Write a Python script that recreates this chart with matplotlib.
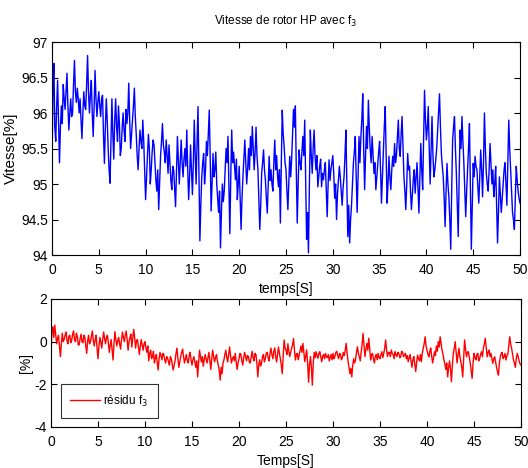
import numpy as np
import matplotlib
matplotlib.use("Agg")
import matplotlib.pyplot as plt

plt.rcParams['font.family'] = ['Liberation Sans Narrow', 'Liberation Sans', 'DejaVu Sans']

# HP rotor speed [%], sampled every 0.1 s from 0 to 50 s (one row per second)
speed = [
    95.25, 96.30, 96.70, 95.80, 95.60, 96.10, 96.46, 95.90, 95.30, 95.80,
    96.10, 95.85, 96.40, 96.20, 96.05, 96.30, 96.56, 96.10, 95.76, 96.00,
    96.20, 95.95, 96.00, 96.40, 96.74, 96.30, 96.15, 96.35, 96.20, 96.00,
    96.20, 95.90, 95.64, 96.00, 96.30, 96.10, 96.05, 96.40, 96.81, 96.30,
    96.00, 96.25, 96.46, 96.00, 95.67, 96.10, 96.60, 96.20, 95.95, 96.15,
    96.30, 96.10, 95.95, 96.20, 96.25, 95.70, 95.29, 95.80, 96.20, 95.90,
    95.50, 95.20, 95.01, 95.60, 96.20, 95.70, 95.35, 95.90, 96.20, 95.80,
    95.60, 96.10, 95.85, 95.40, 95.50, 95.80, 96.00, 95.75, 95.60, 96.05,
    95.85, 96.00, 96.42, 95.90, 95.50, 95.70, 95.90, 96.10, 96.35, 95.95,
    95.70, 95.40, 95.20, 95.50, 95.76, 95.60, 95.50, 95.90, 95.60, 95.20,
    94.78, 95.10, 95.40, 95.70, 95.50, 95.00, 95.20, 95.45, 95.62, 95.55,
    95.30, 95.05, 94.90, 95.20, 94.64, 95.00, 95.40, 95.60, 95.85, 95.55,
    95.45, 95.30, 95.62, 95.40, 95.15, 95.55, 95.30, 95.05, 94.92, 95.25,
    95.20, 94.95, 94.68, 95.20, 95.67, 95.35, 95.00, 95.30, 95.62, 95.30,
    95.10, 95.35, 95.50, 95.25, 95.76, 95.20, 94.78, 95.10, 95.55, 95.20,
    94.85, 95.30, 95.90, 95.40, 95.00, 95.60, 96.09, 95.10, 94.20, 94.70,
    95.10, 95.30, 95.43, 95.00, 95.20, 95.60, 95.40, 95.70, 96.04, 95.40,
    94.62, 95.00, 95.43, 95.10, 95.20, 95.45, 95.00, 94.80, 94.60, 94.90,
    94.10, 94.60, 95.00, 94.75, 94.90, 95.20, 95.50, 95.30, 95.67, 95.00,
    94.30, 95.10, 95.76, 95.30, 95.45, 95.25, 95.06, 95.35, 94.78, 95.00,
    95.25, 94.80, 94.36, 94.80, 95.10, 95.35, 95.62, 95.30, 95.00, 95.20,
    95.50, 95.20, 95.67, 95.40, 95.81, 95.50, 95.20, 95.45, 95.80, 95.40,
    95.20, 94.80, 94.36, 94.70, 95.15, 95.30, 95.48, 95.20, 95.06, 94.80,
    94.59, 95.00, 95.39, 95.05, 95.20, 95.00, 94.90, 95.30, 95.62, 95.20,
    95.40, 95.10, 94.96, 95.20, 94.45, 95.30, 96.04, 95.70, 95.53, 95.30,
    95.20, 94.90, 94.64, 95.00, 95.39, 95.10, 95.34, 95.70, 96.05, 95.80,
    96.10, 95.20, 94.45, 95.00, 95.48, 95.30, 95.20, 95.45, 95.67, 95.40,
    95.90, 95.10, 94.22, 94.60, 94.03, 95.00, 95.76, 95.40, 95.15, 95.50,
    95.76, 95.40, 95.20, 95.40, 94.96, 95.10, 95.25, 95.35, 94.96, 95.15,
    95.06, 95.20, 95.30, 94.90, 94.54, 95.00, 95.34, 95.05, 95.20, 95.30,
    95.40, 95.15, 94.80, 95.00, 94.50, 94.85, 95.06, 95.25, 95.10, 94.90,
    94.70, 94.95, 95.10, 95.40, 95.76, 95.00, 94.26, 94.70, 94.17, 94.50,
    94.70, 95.00, 95.29, 95.45, 95.67, 95.10, 94.60, 95.10, 95.67, 95.30,
    95.67, 95.90, 96.27, 95.50, 94.92, 95.40, 95.81, 95.50, 96.18, 95.80,
    95.48, 95.30, 95.67, 95.40, 95.15, 95.30, 94.92, 95.10, 95.29, 95.45,
    95.60, 95.20, 94.73, 95.10, 95.50, 95.80, 96.09, 95.40, 94.73, 95.00,
    95.39, 95.10, 94.92, 95.20, 95.39, 95.25, 95.57, 95.30, 95.40, 95.65,
    95.90, 95.50, 95.39, 95.70, 95.95, 95.50, 95.10, 94.90, 94.64, 95.00,
    95.43, 95.20, 95.25, 94.90, 94.64, 94.85, 95.06, 95.20, 94.87, 95.10,
    95.30, 94.95, 94.59, 95.10, 95.57, 95.20, 94.92, 95.60, 96.32, 95.90,
    95.62, 95.80, 96.09, 95.50, 95.00, 95.50, 95.95, 95.40, 95.10, 95.20,
    95.34, 95.50, 95.76, 96.00, 96.27, 95.80, 95.43, 95.25, 95.10, 94.80,
    94.40, 94.90, 95.29, 95.00, 94.82, 94.50, 94.08, 94.90, 95.62, 95.80,
    95.95, 95.50, 95.15, 94.70, 94.26, 95.10, 95.76, 95.50, 95.95, 95.60,
    95.30, 94.90, 94.54, 94.90, 95.20, 95.50, 95.85, 95.00, 94.08, 94.70,
    95.29, 95.10, 95.39, 95.25, 95.20, 94.95, 94.73, 95.10, 95.48, 95.20,
    94.82, 95.30, 96.00, 95.50, 95.15, 95.00, 94.90, 95.20, 95.57, 95.30,
    95.00, 95.20, 94.82, 95.00, 95.25, 94.70, 94.17, 94.60, 95.10, 94.85,
    94.60, 94.80, 95.00, 95.20, 95.30, 95.00, 94.70, 95.30, 95.90, 95.50,
    95.20, 94.90, 94.60, 94.50, 94.36, 94.80, 95.25, 95.05, 94.90, 94.80,
    94.73,
]

# fault-f3 residual [%], same time base
residual = [
    -0.55, 0.45, 0.70, 0.20, 0.78, 0.35, -0.10, 0.15, 0.30, -0.20,
    -0.70, -0.10, 0.40, 0.00, 0.10, 0.30, 0.45, 0.05, -0.10, 0.25,
    0.30, -0.05, 0.05, 0.35, 0.50, 0.10, 0.00, 0.40, 0.25, -0.15,
    -0.15, 0.15, 0.35, 0.00, -0.05, 0.30, 0.20, -0.20, -0.55, 0.05,
    0.30, -0.10, 0.00, 0.25, 0.50, 0.05, -0.20, 0.10, 0.30, -0.30,
    -0.80, -0.20, 0.20, 0.00, -0.30, 0.10, 0.45, 0.15, -0.10, 0.20,
    0.30, -0.05, -0.50, -0.15, 0.10, -0.40, -0.86, -0.10, 0.47, 0.10,
    -0.20, 0.05, 0.20, -0.10, -0.35, 0.10, 0.45, 0.20, 0.00, 0.30,
    0.50, 0.10, -0.40, 0.00, 0.20, 0.35, -0.25, 0.15, 0.58, 0.20,
    -0.30, 0.05, 0.10, -0.25, -0.60, -0.20, 0.10, -0.15, -0.40, -0.10,
    0.00, -0.30, -0.50, -0.20, -0.90, -0.55, -0.40, -0.80, -0.70, -0.45,
    -1.00, -0.75, -0.60, -0.95, -1.33, -0.80, -0.50, -0.65, -0.85, -0.55,
    -0.60, -0.85, -1.00, -0.70, -0.75, -0.95, -1.10, -0.70, -0.80, -1.05,
    -1.33, -1.10, -0.90, -0.55, -0.30, -0.80, -1.20, -0.95, -0.70, -0.50,
    -0.35, -0.70, -1.00, -0.80, -0.60, -0.90, -1.00, -0.65, -0.50, -0.85,
    -1.10, -0.85, -0.70, -0.95, -1.20, -0.90, -1.65, -1.00, -0.40, -0.70,
    -0.95, -0.70, -1.15, -0.85, -0.60, -0.80, -1.00, -0.75, -0.50, -0.90,
    -1.30, -0.80, -0.40, -0.70, -0.95, -0.75, -0.60, -0.90, -1.10, -1.35,
    -1.80, -1.20, -1.50, -1.00, -0.85, -0.60, -0.40, -0.75, -0.95, -0.60,
    -0.25, -0.65, -1.00, -0.80, -0.70, -0.90, -0.55, -0.95, -1.30, -1.00,
    -0.80, -0.55, -0.60, -0.90, -1.10, -0.75, -0.50, -0.70, -0.90, -0.65,
    -0.70, -0.95, -1.00, -0.70, -0.45, -0.75, -0.90, -0.55, -0.60, -1.00,
    -1.65, -1.10, -0.85, -1.15, -1.00, -0.70, -0.60, -0.95, -0.80, -0.55,
    -0.50, -0.75, -0.90, -0.55, -0.30, -0.60, -0.80, -0.45, -0.30, -0.70,
    -0.95, -0.60, -0.25, -0.55, -0.80, -1.10, -1.50, -0.70, 0.08, -0.30,
    -0.39, -0.60, -0.10, -0.45, -0.70, -0.50, -0.30, -0.15, 0.15, -0.40,
    -0.86, -0.60, -0.55, -0.85, -0.63, -0.40, -0.20, -0.50, -0.08, -0.50,
    -0.94, -0.65, -0.39, -1.00, -1.90, -1.10, -0.70, -1.20, -2.04, -1.00,
    -0.50, -0.75, -0.47, -0.65, -0.78, -0.55, -0.47, -0.70, -0.94, -0.70,
    -0.60, -0.80, -0.55, -0.70, -0.75, -0.60, -0.90, -0.75, -0.60, -0.85,
    -0.55, -0.80, -0.70, -0.50, -0.45, -0.65, -0.80, -0.55, -0.60, -0.85,
    -0.75, -0.50, -0.65, -0.40, -0.08, -0.55, -0.90, -1.20, -1.50, -1.25,
    -1.65, -1.10, -0.80, -1.00, -0.85, -0.50, -0.24, -0.55, -0.70, -0.90,
    -0.50, -0.10, 0.39, -0.20, -0.70, -0.35, -0.08, -0.40, 0.16, -0.30,
    -0.86, -0.60, -0.55, -0.80, -1.00, -0.70, -0.60, -0.85, -0.55, -0.75,
    -0.80, -0.60, -0.47, -0.75, -0.55, -0.30, 0.08, -0.40, -0.70, -0.50,
    -0.50, -0.70, -0.39, -0.55, -0.60, -0.80, -0.47, -0.60, -0.70, -0.50,
    -0.55, -0.75, -0.71, -0.45, -0.50, -0.70, -0.63, -0.55, -0.80, -0.65,
    -0.94, -0.75, -0.60, -0.90, -1.20, -0.85, -0.70, -1.05, -1.40, -0.95,
    -0.63, -0.80, -0.90, -0.60, -0.94, -0.55, -0.30, -0.10, 0.23, -0.20,
    -0.40, -0.60, -0.71, -0.45, -0.30, -0.70, -1.00, -0.75, -0.47, -0.65,
    -0.20, -0.45, 0.00, -0.25, 0.23, -0.10, -0.40, -0.60, -0.86, -1.05,
    -1.30, -1.00, -1.65, -1.20, -0.90, -1.30, -1.88, -1.10, -0.55, -0.30,
    0.00, -0.50, -1.00, -0.60, -0.31, -0.70, -0.94, -1.20, -1.65, -0.80,
    0.08, -0.35, -0.71, -0.50, -0.47, -0.75, -1.00, -1.35, -1.72, -1.00,
    -0.55, -0.75, -0.86, -0.60, -0.55, -0.90, -0.80, -0.60, -0.47, -0.70,
    -0.30, -0.10, 0.16, -0.30, -0.71, -0.50, -0.39, -0.70, -0.55, -0.80,
    -1.02, -0.80, -0.71, -0.95, -1.20, -1.40, -1.57, -1.00, -0.71, -0.55,
    -0.50, -0.80, -0.71, -0.55, -0.86, -0.65, -0.60, -0.20, 0.23, -0.10,
    -0.31, -0.60, -0.86, -1.00, -1.20, -0.80, -0.55, -0.70, -0.90, -1.05,
    -1.10,
]

t_end = 50
time = np.linspace(0, t_end, len(speed))

x_ticks = list(range(0, 51, 5))
speed_ticks = [94, 94.5, 95, 95.5, 96, 96.5, 97]
speed_tick_labels = ["94", "94.5", "95", "95.5", "96", "96.5", "97"]
res_ticks = [-4, -2, 0, 2]
res_tick_labels = ["-4", "-2", "0", "2"]

fig = plt.figure(figsize=(5.28, 4.68), dpi=100)
ax1 = fig.add_axes([52 / 528, 1 - 255 / 468, 468 / 528, 213 / 468])
ax2 = fig.add_axes([51 / 528, 1 - 427 / 468, 470 / 528, 128 / 468])

fs = 10


def style(ax):
    ax.tick_params(direction='in', top=True, right=True, length=4,
                   width=0.8, labelsize=fs, pad=3)
    ax.tick_params(axis='x', pad=6)
    for s in ax.spines.values():
        s.set_linewidth(0.8)


ax1.plot(time, speed, color=(0, 0, 1), lw=1.0)
ax1.set_xlim(0, 50)
ax1.set_ylim(94, 97)
ax1.set_xticks(x_ticks)
ax1.set_yticks(speed_ticks)
ax1.set_yticklabels(speed_tick_labels)
ax1.set_xlabel("temps[S]", fontsize=fs, labelpad=3)
ax1.set_ylabel("Vitesse[%]", fontsize=11, labelpad=2)
ax1.set_title("Vitesse de rotor HP avec f$_3$", fontsize=8.5, pad=12)
style(ax1)

ax2.plot(time, residual, color=(1, 0, 0), lw=1.0, label="résidu f$_3$")
ax2.set_xlim(0, 50)
ax2.set_ylim(-4, 2)
ax2.set_xticks(x_ticks)
ax2.set_yticks(res_ticks)
ax2.set_yticklabels(res_tick_labels)
ax2.set_xlabel("Temps[S]", fontsize=fs, labelpad=3)
ax2.set_ylabel("[%]", fontsize=fs, labelpad=1)
style(ax2)
leg = ax2.legend(loc='lower left', bbox_to_anchor=(0.021, 0.07),
                 borderaxespad=0, fancybox=False, fontsize=8.5,
                 handlelength=2.5, handletextpad=0.3, borderpad=0.8)
leg.get_frame().set_edgecolor('black')
leg.get_frame().set_linewidth(0.8)

fig.savefig("out.png", dpi=100)
